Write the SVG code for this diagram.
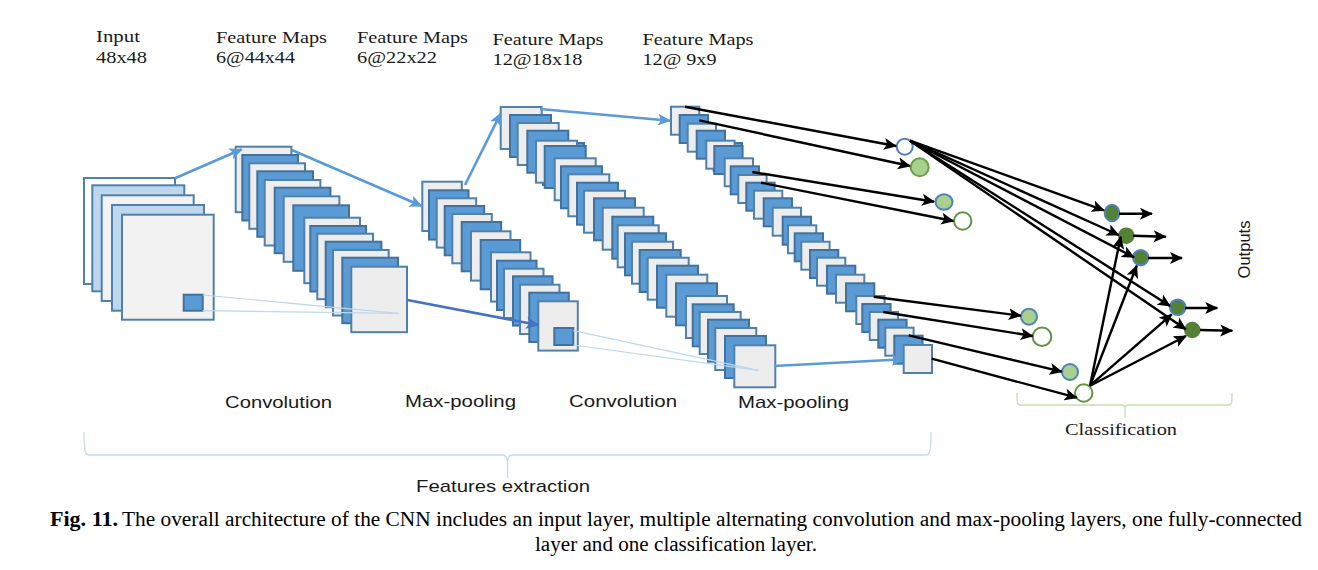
<svg xmlns="http://www.w3.org/2000/svg" width="1318" height="570" viewBox="0 0 1318 570">
<style>
.g{fill:#ededed;stroke:#4f81ab;stroke-width:2}
.b{fill:#5b9bd5;stroke:#41719c;stroke-width:2}
.w{fill:#fff;stroke:#4f81ab;stroke-width:2}
.l{fill:#bdd7ee;stroke:#4f81ab;stroke-width:2}
.s2 rect{width:55.7px;height:65.5px}
.s3 rect{width:39.5px;height:49.3px}
.s4 rect{width:41px;height:42px}
.s5 rect{width:28.3px;height:28px}
.k{stroke:#000;stroke-width:2.4;fill:none;marker-end:url(#ak)}
.a{stroke:#5b9bd5;stroke-width:2.6;fill:none;marker-end:url(#ab)}
.d{stroke:#4472c4;stroke-width:2.6;fill:none;marker-end:url(#ad)}
.t{stroke:#bdd7ee;stroke-width:1.2;fill:none}
.bf{stroke:#c6dbef;stroke-width:1.3;fill:none}
.bc{stroke:#c5e0b4;stroke-width:1.3;fill:none}
.serif{font-family:"Liberation Serif","Times New Roman",serif;font-size:17px;fill:#1a1a1a}
.sans{font-family:"Liberation Sans",Arial,sans-serif;font-size:17px;fill:#1a1a1a}
.cap{font-family:"Liberation Serif","Times New Roman",serif;font-size:20px;fill:#000}
.wb{fill:#fff;stroke:#4f81bd;stroke-width:2}
.wg{fill:#fff;stroke:#5f9440;stroke-width:2}
.gb{fill:#a9d18e;stroke:#4f81bd;stroke-width:2}
.gg{fill:#a9d18e;stroke:#6aa045;stroke-width:2}
.db{fill:#548235;stroke:#4f81bd;stroke-width:2}
.dg{fill:#548235;stroke:#548235;stroke-width:2}
</style>
<defs>
<marker id="ak" markerUnits="userSpaceOnUse" markerWidth="14" markerHeight="13" refX="12" refY="6.5" orient="auto"><path d="M0,0.5 L13,6.5 L0,12.5 L3,6.5z" fill="#000"/></marker>
<marker id="ab" markerUnits="userSpaceOnUse" markerWidth="14" markerHeight="13" refX="12" refY="6.5" orient="auto"><path d="M0,0.5 L13,6.5 L0,12.5 L3,6.5z" fill="#5b9bd5"/></marker>
<marker id="ad" markerUnits="userSpaceOnUse" markerWidth="14" markerHeight="13" refX="12" refY="6.5" orient="auto"><path d="M0,0.5 L13,6.5 L0,12.5 L3,6.5z" fill="#4472c4"/></marker>
</defs>
<rect width="1318" height="570" fill="#fff"/>
<g id="input-layer">
<rect class="w" x="84" y="178" width="91" height="106"/>
<rect class="l" x="92.3" y="185.3" width="92" height="106"/>
<rect class="g" x="101.7" y="195.3" width="92" height="105.7" style="fill:#f2f2f2"/>
<rect class="l" x="112" y="205" width="92" height="105.7"/>
<rect class="g" x="122" y="214.7" width="91.7" height="105" style="fill:#f2f2f2"/>
<rect class="b" x="183.7" y="294.7" width="19" height="16"/>
</g>
<g id="conv-1" class="s2">
<rect class="g" x="235.7" y="146.7"/><rect class="b" x="242.3" y="155"/><rect class="g" x="249.3" y="163.3"/><rect class="b" x="257.3" y="171.3"/><rect class="g" x="264.7" y="180"/><rect class="b" x="274.7" y="187.7"/><rect class="g" x="283.7" y="196.3"/><rect class="b" x="293.3" y="205.3"/><rect class="g" x="304.3" y="217.7"/><rect class="b" x="310.3" y="226"/><rect class="g" x="317.3" y="233.7"/><rect class="b" x="325.7" y="241.7"/><rect class="g" x="333" y="250"/><rect class="b" x="342.3" y="257.7"/><rect class="g" x="351.3" y="266.7"/>
</g>
<g id="pool-1" class="s3">
<rect class="g" x="422.3" y="181.7"/><rect class="b" x="429" y="190.3"/><rect class="g" x="436.7" y="198.3"/><rect class="b" x="444.7" y="206"/><rect class="g" x="452.3" y="214"/><rect class="b" x="461.7" y="222"/><rect class="g" x="471" y="231.3"/><rect class="b" x="480.7" y="240"/><rect class="g" x="491" y="252.3"/><rect class="b" x="497" y="260.7"/><rect class="g" x="504" y="268.7"/><rect class="b" x="513" y="276.3"/><rect class="g" x="520" y="284.7"/><rect class="b" x="529.3" y="292.7"/><rect class="g" x="538.3" y="301.3"/>
<rect class="b" x="554.3" y="328" style="width:19px;height:17px"/>
</g>
<g id="conv-2" class="s4">
<rect class="g" x="500.7" y="107"/><rect class="b" x="510" y="115"/><rect class="g" x="517.7" y="123"/><rect class="b" x="527.3" y="130.7"/><rect class="b" x="543" y="143"/><rect class="g" x="536" y="140.7"/><rect class="b" x="544.7" y="146"/><rect class="g" x="554.7" y="158.3"/><rect class="b" x="561" y="166.3"/><rect class="g" x="568.3" y="174.3"/><rect class="b" x="577" y="182.7"/><rect class="g" x="584" y="190.7"/><rect class="b" x="594" y="198.3"/><rect class="g" x="602.7" y="207.7"/><rect class="b" x="612.3" y="216.7"/><rect class="g" x="617.7" y="225.3"/><rect class="b" x="625" y="233.3"/><rect class="g" x="632" y="241.7"/><rect class="b" x="639.7" y="250"/><rect class="g" x="647.7" y="257.7"/><rect class="b" x="657" y="265.7"/><rect class="g" x="666.3" y="274.7"/><rect class="b" x="676" y="283.3"/><rect class="g" x="686" y="296"/><rect class="b" x="692.7" y="304.3"/><rect class="g" x="699.7" y="312"/><rect class="b" x="708" y="319.7"/><rect class="g" x="715.3" y="328"/><rect class="b" x="725" y="336"/><rect class="g" x="734.3" y="345.3"/>
</g>
<g id="pool-2" class="s5">
<rect class="g" x="671" y="106.7"/><rect class="b" x="679.7" y="115"/><rect class="g" x="687.7" y="123.7"/><rect class="b" x="696.7" y="130.7"/><rect class="b" x="713.7" y="143"/><rect class="g" x="706.3" y="140.7"/><rect class="b" x="714.3" y="146"/><rect class="g" x="724.7" y="158.3"/><rect class="b" x="730.7" y="166.3"/><rect class="g" x="738.3" y="175"/><rect class="b" x="746.3" y="182.7"/><rect class="g" x="754" y="190.7"/><rect class="b" x="763.7" y="198.3"/><rect class="g" x="772.7" y="207.7"/><rect class="b" x="782.7" y="216.7"/><rect class="g" x="788" y="225.3"/><rect class="b" x="794.7" y="233.3"/><rect class="g" x="801.3" y="241.7"/><rect class="b" x="810" y="250"/><rect class="g" x="817" y="257.7"/><rect class="b" x="827" y="265.7"/><rect class="g" x="836" y="274.7"/><rect class="b" x="846" y="283.3"/><rect class="g" x="856.3" y="296"/><rect class="b" x="862.3" y="304"/><rect class="g" x="869.7" y="312"/><rect class="b" x="878.3" y="319.7"/><rect class="g" x="885.3" y="327.7"/><rect class="b" x="894.3" y="335.7"/>
</g>
<g id="connectors-under">
<line class="a" x1="774" y1="366" x2="903.7" y2="359.3"/>
</g>
<g id="pool-2-front" class="s5"><rect class="g" x="903.7" y="345"/></g>
<g id="neuron-1"><circle class="wb" cx="904.7" cy="146.7" r="8"/></g>
<g id="neuron-2"><circle class="gg" cx="919.7" cy="167.3" r="9"/></g>
<g id="neuron-3"><ellipse class="gb" cx="944" cy="202" rx="8.5" ry="7.7"/></g>
<g id="neuron-4"><circle class="wg" cx="962.7" cy="221" r="8.7"/></g>
<g id="neuron-5"><circle class="gb" cx="1029" cy="316.7" r="8"/></g>
<g id="neuron-6"><circle class="wg" cx="1042" cy="336.7" r="9.3"/></g>
<g id="neuron-7"><circle class="gb" cx="1070" cy="372" r="8"/></g>
<g id="neuron-8"><circle class="wg" cx="1083.7" cy="393" r="8.7"/></g>
<g id="output-1"><ellipse class="db" cx="1112" cy="213" rx="7.3" ry="8.2"/></g>
<g id="output-2"><circle class="dg" cx="1126.3" cy="235.7" r="7.3"/></g>
<g id="output-3"><circle class="db" cx="1140.7" cy="257.7" r="7.6"/></g>
<g id="output-4"><circle class="db" cx="1177.7" cy="307.3" r="7.8"/></g>
<g id="output-5"><circle class="dg" cx="1192.3" cy="330" r="7.3"/></g>
<g id="connectors">
<line class="t" x1="202.7" y1="295" x2="398.3" y2="313.3"/>
<line class="t" x1="202.7" y1="310.7" x2="398.3" y2="313.3"/>
<line class="t" x1="573.3" y1="330.7" x2="758.3" y2="370.3"/>
<line class="t" x1="573.3" y1="345" x2="758.3" y2="370.3"/>
<line class="a" x1="175" y1="178.3" x2="241.7" y2="149.3"/>
<line class="a" x1="291.7" y1="150" x2="421.7" y2="206"/>
<line class="a" x1="465" y1="185" x2="500.7" y2="113.3"/>
<line class="a" x1="540" y1="109" x2="670" y2="120.7"/>
<line class="d" x1="407.3" y1="300" x2="538.3" y2="325"/>
<line class="k" x1="685" y1="106.7" x2="896" y2="146"/>
<line class="k" x1="699.3" y1="120.3" x2="910" y2="166"/>
<line class="k" x1="752.3" y1="172" x2="934" y2="201.7"/>
<line class="k" x1="761" y1="182.7" x2="953.3" y2="221"/>
<line class="k" x1="873.7" y1="296.7" x2="1020.7" y2="315.7"/>
<line class="k" x1="883.3" y1="312" x2="1032.7" y2="336"/>
<line class="k" x1="908.7" y1="335.3" x2="1061.7" y2="371.7"/>
<line class="k" x1="931.7" y1="358.7" x2="1076.7" y2="397.7"/>
<line class="k" x1="910" y1="140.7" x2="1104" y2="210.3"/>
<line class="k" x1="910" y1="140.7" x2="1118.7" y2="235"/>
<line class="k" x1="910" y1="140.7" x2="1134" y2="257.3"/>
<line class="k" x1="910" y1="140.7" x2="1170" y2="306"/>
<line class="k" x1="910" y1="140.7" x2="1185.7" y2="329.3"/>
<line class="k" x1="1090" y1="385.7" x2="1120.7" y2="236.7"/>
<line class="k" x1="1090" y1="385.7" x2="1136.7" y2="265.7"/>
<line class="k" x1="1090" y1="385.7" x2="1171.7" y2="314.3"/>
<line class="k" x1="1090" y1="385.7" x2="1186" y2="336"/>
<line class="k" x1="1119" y1="213.7" x2="1152" y2="213.7"/>
<line class="k" x1="1133" y1="235.7" x2="1165.7" y2="236.7"/>
<line class="k" x1="1148" y1="258" x2="1182" y2="258"/>
<line class="k" x1="1185" y1="308" x2="1217.3" y2="308"/>
<line class="k" x1="1200" y1="330" x2="1232.3" y2="330.7"/>
</g>
<g id="braces">
<path class="bf" d="M84,432 C84,450 85,455 89,455 L503,455 C506,455 507,458 507.5,462 C508,458 509,455 512,455 L926,455 C930,455 931,450 931,432 M507.5,462 L507.5,478"/>
<path class="bc" d="M1017,393 C1017,402 1017,405 1020,405 L1121,405 C1124,405 1125,406 1125,408 C1125,406 1126,405 1129,405 L1229,405 C1232,405 1232,402 1232,393 M1125,408 L1125,418"/>
</g>
<g id="labels">
<text class="serif" x="96" y="42" textLength="44" lengthAdjust="spacingAndGlyphs">Input</text>
<text class="serif" x="96" y="63" textLength="51" lengthAdjust="spacingAndGlyphs">48x48</text>
<text class="serif" x="216" y="42.5" textLength="111" lengthAdjust="spacingAndGlyphs">Feature Maps</text>
<text class="serif" x="216" y="63" textLength="79" lengthAdjust="spacingAndGlyphs">6@44x44</text>
<text class="serif" x="357" y="42.5" textLength="111" lengthAdjust="spacingAndGlyphs">Feature Maps</text>
<text class="serif" x="357" y="63" textLength="80" lengthAdjust="spacingAndGlyphs">6@22x22</text>
<text class="serif" x="492.5" y="44.5" textLength="111" lengthAdjust="spacingAndGlyphs">Feature Maps</text>
<text class="serif" x="492.5" y="65" textLength="90" lengthAdjust="spacingAndGlyphs">12@18x18</text>
<text class="serif" x="642.5" y="44.5" textLength="111" lengthAdjust="spacingAndGlyphs">Feature Maps</text>
<text class="serif" x="642.5" y="65" textLength="74" lengthAdjust="spacingAndGlyphs" xml:space="preserve">12@ 9x9</text>
<text class="sans" x="225" y="408" textLength="107" lengthAdjust="spacingAndGlyphs">Convolution</text>
<text class="sans" x="405" y="407" textLength="111" lengthAdjust="spacingAndGlyphs">Max-pooling</text>
<text class="sans" x="569" y="407" textLength="108" lengthAdjust="spacingAndGlyphs">Convolution</text>
<text class="sans" x="738" y="408" textLength="111" lengthAdjust="spacingAndGlyphs">Max-pooling</text>
<text class="sans" x="416" y="492" textLength="174" lengthAdjust="spacingAndGlyphs">Features extraction</text>
<text class="serif" x="1065" y="435" textLength="112" lengthAdjust="spacingAndGlyphs">Classification</text>
<text class="sans" transform="translate(1250,278.5) rotate(-90)" textLength="58" lengthAdjust="spacingAndGlyphs">Outputs</text>
<text class="cap" x="50" y="526" textLength="68" lengthAdjust="spacingAndGlyphs" font-weight="bold">Fig. 11.</text>
<text class="cap" x="122" y="526" textLength="1180" lengthAdjust="spacingAndGlyphs">The overall architecture of the CNN includes an input layer, multiple alternating convolution and max-pooling layers, one fully-connected</text>
<text class="cap" x="535" y="551" textLength="282" lengthAdjust="spacingAndGlyphs">layer and one classification layer.</text>
</g>
</svg>
